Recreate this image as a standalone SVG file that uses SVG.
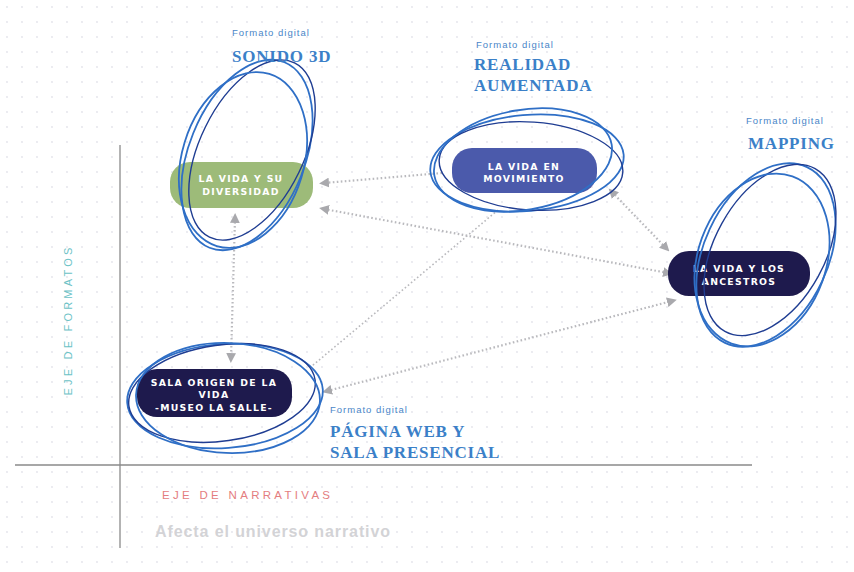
<svg xmlns="http://www.w3.org/2000/svg" width="854" height="572" viewBox="0 0 854 572">
<style>
.fmt{font-family:"Liberation Sans",Arial,sans-serif;font-size:9.5px;fill:#4a86c8;letter-spacing:1px}
.hd{font-family:"Liberation Serif","Times New Roman",serif;font-weight:bold;font-size:17px;fill:#3b80c8;letter-spacing:0.8px}
.nt{font-family:"DejaVu Sans","Liberation Sans",sans-serif;font-weight:bold;font-size:9.3px;fill:#ffffff;letter-spacing:1.3px;text-anchor:middle}
.conn{fill:none;stroke:#b9b9bd;stroke-width:2.2;stroke-dasharray:1.6 2.4}
.sc1{fill:none;stroke:#2f6fc6;stroke-width:1.8}
.sc2{fill:none;stroke:#1f3d92;stroke-width:1.4}
.ax{stroke:#8a8a8a;stroke-width:1.3}
</style>
<defs>
<pattern id="dots" width="15" height="15" patternUnits="userSpaceOnUse">
<circle cx="7" cy="7" r="0.9" fill="#e3e3ea"/>
</pattern>
<marker id="ah" viewBox="0 0 10 10" refX="5" refY="5" markerWidth="4.5" markerHeight="4.5" orient="auto-start-reverse" markerUnits="strokeWidth">
<path d="M0,0 L10,5 L0,10 z" fill="#a9a9ad"/>
</marker>
</defs>
<rect width="854" height="572" fill="#ffffff"/>
<rect width="854" height="572" fill="url(#dots)"/>

<g id="axes">
<line class="ax" x1="120" y1="145" x2="120" y2="548"/>
<line class="ax" x1="15" y1="465" x2="752" y2="465"/>
<text x="72" y="320" transform="rotate(-90 72 320)" text-anchor="middle" font-family="Liberation Sans,Arial,sans-serif" font-size="11px" letter-spacing="3.2px" fill="#6cc2c6">EJE DE FORMATOS</text>
<text x="162" y="499" font-family="Liberation Sans,Arial,sans-serif" font-size="11.5px" letter-spacing="3.3px" fill="#e47d80">EJE DE NARRATIVAS</text>
<text x="155" y="537" font-family="Liberation Sans,Arial,sans-serif" font-weight="bold" font-size="16px" letter-spacing="0.9px" fill="#d3d3d6">Afecta el universo narrativo</text>
</g>

<g id="connectors">
<line class="conn" x1="442" y1="173" x2="324" y2="183" marker-end="url(#ah)"/>
<line class="conn" x1="324" y1="209" x2="668" y2="273" marker-start="url(#ah)" marker-end="url(#ah)"/>
<line class="conn" x1="612" y1="192" x2="666" y2="248" marker-start="url(#ah)" marker-end="url(#ah)"/>
<line class="conn" x1="498" y1="210" x2="312" y2="366" style="stroke-width:1.6"/>
<line class="conn" x1="327" y1="391" x2="672" y2="301" marker-start="url(#ah)" marker-end="url(#ah)"/>
<line class="conn" x1="235" y1="218" x2="231" y2="358" marker-start="url(#ah)" marker-end="url(#ah)"/>
</g>

<g id="node-diversidad">
<rect x="170" y="162" width="143" height="46" rx="20" fill="#9dbb79"/>
<text class="nt" x="241" y="182" fill="#eef4e6">LA VIDA Y SU</text>
<text class="nt" x="241" y="195">DIVERSIDAD</text>
<ellipse class="sc1" cx="247" cy="155" rx="58" ry="100" transform="rotate(22 247 155)"/>
<ellipse class="sc2" cx="252" cy="150" rx="52" ry="97" transform="rotate(26 252 150)"/>
<ellipse class="sc1" cx="243" cy="160" rx="61" ry="90" transform="rotate(17 243 160)"/>
<text class="fmt" x="232" y="36">Formato digital</text>
<text class="hd" x="232" y="62">SONIDO 3D</text>
</g>

<g id="node-movimiento">
<rect x="452" y="148" width="145" height="45" rx="20" fill="#4b5aab"/>
<text class="nt" x="524" y="170">LA VIDA EN</text>
<text class="nt" x="524" y="182">MOVIMIENTO</text>
<ellipse class="sc1" cx="527" cy="163" rx="97" ry="48" transform="rotate(-5 527 163)"/>
<ellipse class="sc2" cx="531" cy="166" rx="92" ry="44" transform="rotate(4 531 166)"/>
<ellipse class="sc1" cx="523" cy="160" rx="90" ry="50" transform="rotate(-10 523 160)"/>
<text class="fmt" x="476" y="48">Formato digital</text>
<text class="hd" x="474" y="70">REALIDAD</text>
<text class="hd" x="474" y="91">AUMENTADA</text>
</g>

<g id="node-ancestros">
<rect x="668" y="251" width="142" height="45" rx="21" fill="#1e1a4d"/>
<text class="nt" x="739" y="272">LA VIDA Y LOS</text>
<text class="nt" x="739" y="285">ANCESTROS</text>
<ellipse class="sc1" cx="766" cy="255" rx="62" ry="97" transform="rotate(25 766 255)"/>
<ellipse class="sc2" cx="770" cy="250" rx="55" ry="93" transform="rotate(29 770 250)"/>
<ellipse class="sc1" cx="762" cy="260" rx="64" ry="89" transform="rotate(20 762 260)"/>
<text class="fmt" x="746" y="124">Formato digital</text>
<text class="hd" x="748" y="149">MAPPING</text>
</g>

<g id="node-sala">
<rect x="137" y="369" width="155" height="48" rx="20" fill="#1e1a4d"/>
<text class="nt" x="214" y="386">SALA ORIGEN DE LA</text>
<text class="nt" x="214" y="398">VIDA</text>
<text class="nt" x="214" y="411">-MUSEO LA SALLE-</text>
<ellipse class="sc1" cx="225" cy="396" rx="98" ry="52" transform="rotate(-4 225 396)"/>
<ellipse class="sc2" cx="222" cy="393" rx="94" ry="48" transform="rotate(-8 222 393)"/>
<ellipse class="sc1" cx="228" cy="398" rx="92" ry="55" transform="rotate(2 228 398)"/>
<text class="fmt" x="330" y="413">Formato digital</text>
<text class="hd" x="330" y="437">PÁGINA WEB Y</text>
<text class="hd" x="330" y="458">SALA PRESENCIAL</text>
</g>
</svg>
